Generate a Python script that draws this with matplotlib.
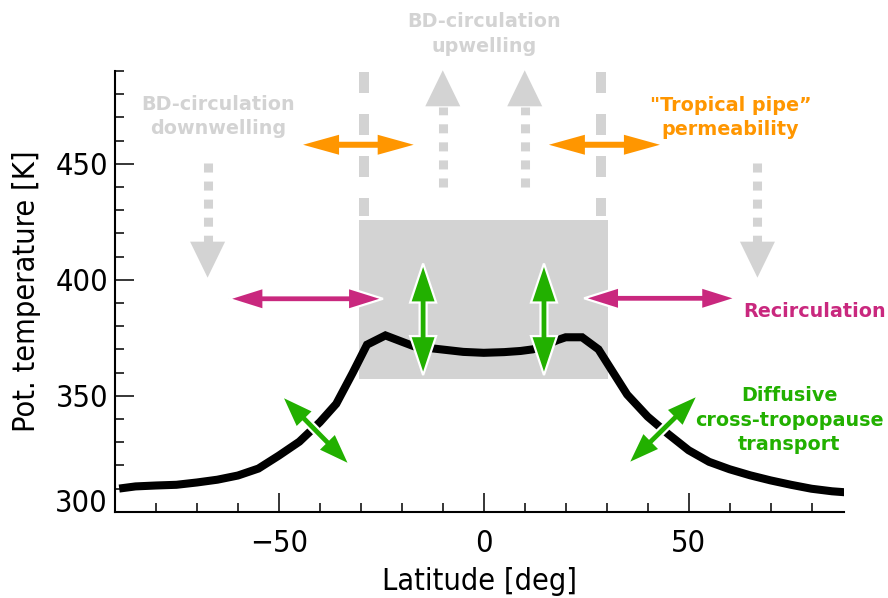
import numpy as np
import matplotlib
matplotlib.use("Agg")
import matplotlib.pyplot as plt
from matplotlib import font_manager
from matplotlib.patches import Polygon, Rectangle

# tropopause potential temperature vs latitude
lat = [-88, -85, -80, -75, -70, -65, -60, -55, -50, -45, -40, -36, -32, -28.5,
       -24, -20, -17, -12, -5, 0, 5, 9, 12, 16, 18, 20, 24, 28, 35, 40, 45, 50,
       55, 60, 65, 70, 75, 80, 85, 88]
theta = [310.2, 310.9, 311.3, 311.6, 312.6, 313.8, 315.6, 318.6, 324.2, 330.2,
         338.6, 346.5, 359.8, 372.0, 376.0, 373.3, 371.3, 370.3, 368.9, 368.5,
         368.8, 369.3, 370.0, 372.5, 374.0, 375.2, 375.2, 370.0, 350.5, 341.0,
         333.5, 326.5, 321.5, 318.3, 315.7, 313.5, 311.6, 309.9, 308.8, 308.4]

xticks = [-50, 0, 50]
yticks = [300, 350, 400, 450]

GRAY = "#d3d3d3"
ORANGE = "#ff9600"
MAGENTA = "#c9287e"
GREEN = "#22b000"

# condensed DejaVu if the system has it
cond = [f.fname for f in font_manager.fontManager.ttflist
        if "DejaVu" in f.name and "Sans" in f.name and f.stretch == "condensed"
        and f.weight in (400, "normal") and f.style == "normal"
        and "Mono" not in f.name]
if cond:
    lab_font = font_manager.FontProperties(fname=cond[0], size=22)
else:
    lab_font = font_manager.FontProperties(family="DejaVu Sans", size=20.5)

fig = plt.figure(figsize=(8.88, 5.98), dpi=100)
ax = fig.add_axes([115 / 888, 1 - 511.7 / 598, (844.3 - 115) / 888, (511.7 - 71) / 598])
ax.set_xlim(-90, 88)
ax.set_ylim(300, 490)


def arrow(x0, y0, x1, y1, color, hl, hw, sw, heads=2, edge="white", elw=1.6, z=5):
    tr = ax.transData
    p0 = tr.transform((x0, y0))
    p1 = tr.transform((x1, y1))
    d = p1 - p0
    u = d / np.hypot(*d)
    n = np.array([-u[1], u[0]])
    if heads == 2:
        pts = [p0,
               p0 + u * hl + n * hw / 2, p0 + u * hl + n * sw / 2,
               p1 - u * hl + n * sw / 2, p1 - u * hl + n * hw / 2,
               p1,
               p1 - u * hl - n * hw / 2, p1 - u * hl - n * sw / 2,
               p0 + u * hl - n * sw / 2, p0 + u * hl - n * hw / 2]
    else:
        pts = [p1 - u * hl + n * hw / 2, p1, p1 - u * hl - n * hw / 2]
    pts = tr.inverted().transform(np.array(pts))
    ax.add_patch(Polygon(pts, closed=True, facecolor=color,
                         edgecolor=edge if edge else color,
                         linewidth=elw if edge else 0, joinstyle="miter",
                         zorder=z, clip_on=False))


# tropical box
ax.add_patch(Rectangle((-30.5, 357.2), 60.8, 68.5, facecolor=GRAY,
                       edgecolor="none", zorder=1))

# dashed pipe walls
for xw in [-29.3, 28.6]:
    ax.plot([xw, xw], [489.7, 427.5], color=GRAY, lw=7.2, dashes=(2.1, 2.1),
            dash_capstyle="butt", zorder=1, clip_on=False)

# BD upwelling / downwelling arrows
for xu in [-10, 10]:
    ax.plot([xu, xu], [440.1, 474.6], color=GRAY, lw=6.5, dashes=(1, 1),
            dash_capstyle="butt", zorder=1)
    arrow(xu, 440.1, xu, 490.3, GRAY, 36, 35, 0, heads=1, edge=None, z=1)
for xd in [-67.4, 66.8]:
    ax.plot([xd, xd], [450.4, 416.1], color=GRAY, lw=6.5, dashes=(1, 1),
            dash_capstyle="butt", zorder=1)
    arrow(xd, 450.4, xd, 400.9, GRAY, 36, 35, 0, heads=1, edge=None, z=1)

# tropopause
ax.plot(lat, theta, color="black", lw=5.8, zorder=3, solid_joinstyle="miter")

# tropical pipe permeability
arrow(-44.1, 458.2, -17.1, 458.2, ORANGE, 36, 20, 6, edge=None)
arrow(15.9, 458.2, 43.0, 458.2, ORANGE, 36, 20, 6, edge=None)

# recirculation
arrow(-62.3, 391.8, -24.6, 391.8, MAGENTA, 35, 22, 7)
arrow(24.5, 392.0, 61.6, 392.0, MAGENTA, 35, 22, 7)

# cross-tropopause transport
arrow(-14.8, 358.9, -14.8, 407.0, GREEN, 39, 26, 7)
arrow(14.7, 358.9, 14.7, 407.0, GREEN, 39, 26, 7)
arrow(-49.3, 349.9, -32.7, 320.1, GREEN, 33, 24, 7)
arrow(52.3, 350.3, 35.2, 320.6, GREEN, 33, 24, 7)

txt = dict(ha="center", va="center", fontsize=13.8, fontweight="bold",
           family="DejaVu Sans", clip_on=False, zorder=6, linespacing=1.35)
ax.text(-64.8, 470.3, "BD-circulation\ndownwelling", color=GRAY, **txt)
ax.text(0, 505.9, "BD-circulation\nupwelling", color=GRAY, **txt)
ax.text(60.2, 470.1, "\"Tropical pipe\u201d\npermeability", color=ORANGE, **txt)
ax.text(80.7, 386.2, "Recirculation", color=MAGENTA, **txt)
ax.text(74.6, 339.5, "Diffusive\ncross-tropopause\ntransport", color=GREEN, **txt)

# axes styling
for s in ["top", "right"]:
    ax.spines[s].set_visible(False)
for s in ["left", "bottom"]:
    ax.spines[s].set_linewidth(1.5)
ax.set_xticks(xticks)
ax.set_xticks(np.arange(-80, 81, 10), minor=True)
ax.set_yticks(yticks)
ax.set_yticks(np.arange(310, 491, 10), minor=True)
ax.tick_params(which="both", direction="in", width=1.1)
ax.tick_params(which="major", length=13.5)
ax.tick_params(which="minor", length=6.7)
ax.tick_params(axis="x", which="major", pad=12.2)
ax.tick_params(axis="y", which="major", pad=5)
ax.set_xticklabels(["\u221250", "0", "50"], fontproperties=lab_font)
ax.set_yticklabels([str(v) for v in yticks], fontproperties=lab_font)
ax.get_yticklabels()[0].set_va("baseline")

ax.set_xlabel("Latitude [deg]", fontproperties=lab_font, labelpad=7)
ax.set_ylabel("Pot. temperature [K]", fontproperties=lab_font, labelpad=10)

fig.savefig("out.png", dpi=100)
